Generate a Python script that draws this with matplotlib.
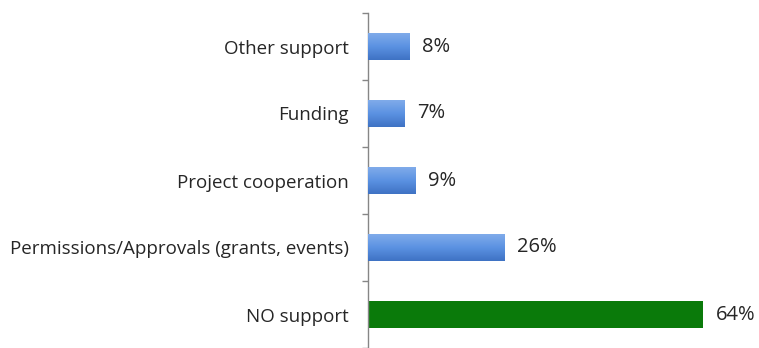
import matplotlib
matplotlib.use("Agg")
import matplotlib.pyplot as plt
import numpy as np
from matplotlib.ticker import FixedLocator
from matplotlib.colors import LinearSegmentedColormap

categories = ["NO support", "Permissions/Approvals (grants, events)",
              "Project cooperation", "Funding", "Other support"]
values = [64, 26, 9, 7, 8]
value_labels = ["64%", "26%", "9%", "7%", "8%"]

plt.rcParams["font.family"] = ["Open Sans", "DejaVu Sans"]

fig = plt.figure(figsize=(7.59, 3.48), dpi=100)
ax = fig.add_axes([368 / 759, 0.0, 1 - 368 / 759, 1 - 13 / 348])

y = np.arange(len(categories))
colors = ["#0a7a0a"] + ["#5a8fdc"] * 4
bars = ax.barh(y, values, height=0.4, color=colors, edgecolor="none", zorder=2)

# vertical gradient on the blue bars
grad = np.linspace(0, 1, 64).reshape(-1, 1)
cmap = LinearSegmentedColormap.from_list("bl", ["#3f72c4", "#5b92e2", "#80abea"])
for b in bars[1:]:
    x0, y0 = b.get_x(), b.get_y()
    w, h = b.get_width(), b.get_height()
    im = ax.imshow(grad, cmap=cmap, aspect="auto", extent=[x0, x0 + w, y0, y0 + h],
                   origin="lower", zorder=3, interpolation="bicubic")
    im.set_clip_path(b)

for yi, v, lab in zip(y, values, value_labels):
    ax.annotate(lab, (v, yi), xytext=(9, 0), textcoords="offset points",
                ha="left", va="center", fontsize=14.5, color="#262626")

ax.set_xlim(0, 74.7)
ax.set_ylim(-0.5, 4.5)
ax.set_yticks(y)
ax.set_yticklabels(categories, fontsize=13.5, color="#262626")
ax.yaxis.set_minor_locator(FixedLocator(np.arange(-0.5, 5, 1)))
ax.tick_params(axis="y", which="major", length=0, pad=14)
ax.tick_params(axis="y", which="minor", length=4, width=1, color="#868686", direction="out")
ax.set_xticks([])
for s in ["top", "right", "bottom"]:
    ax.spines[s].set_visible(False)
ax.spines["left"].set_color("#868686")
ax.spines["left"].set_linewidth(1.0)

fig.savefig("out.png", dpi=100)
